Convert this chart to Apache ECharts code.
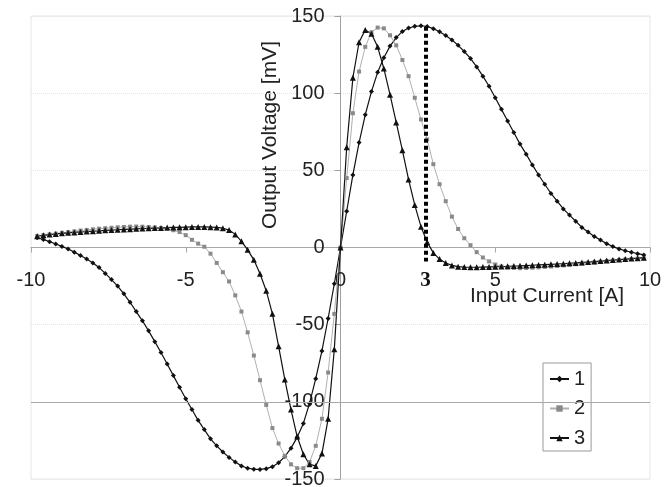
<!DOCTYPE html>
<html>
<head>
<meta charset="utf-8">
<script src="https://cdn.jsdelivr.net/npm/echarts@6/dist/echarts.min.js"></script>
<style>
html,body{margin:0;padding:0;background:#fff;}
#chart{width:669px;height:487px;}
</style>
</head>
<body>
<div id="chart"></div>
<script>
// Input current samples [A]
var xValues = [
 -9.8,-9.6,-9.4,-9.2,-9.0,-8.8,-8.6,-8.4,-8.2,-8.0,
 -7.8,-7.6,-7.4,-7.2,-7.0,-6.8,-6.6,-6.4,-6.2,-6.0,
 -5.8,-5.6,-5.4,-5.2,-5.0,-4.8,-4.6,-4.4,-4.2,-4.0,
 -3.8,-3.6,-3.4,-3.2,-3.0,-2.8,-2.6,-2.4,-2.2,-2.0,
 -1.8,-1.6,-1.4,-1.2,-1.0,-0.8,-0.6,-0.4,-0.2,0.0,
 0.2,0.4,0.6,0.8,1.0,1.2,1.4,1.6,1.8,2.0,
 2.2,2.4,2.6,2.8,3.0,3.2,3.4,3.6,3.8,4.0,
 4.2,4.4,4.6,4.8,5.0,5.2,5.4,5.6,5.8,6.0,
 6.2,6.4,6.6,6.8,7.0,7.2,7.4,7.6,7.8,8.0,
 8.2,8.4,8.6,8.8,9.0,9.2,9.4,9.6,9.8
];
// Output voltage [mV], series "1"
var series1 = [
 6.3,5.2,3.8,2.3,0.7,-1.0,-3.0,-5.2,-7.5,-10,
 -13,-16.8,-20.8,-25,-30,-35.5,-41.5,-47.5,-54,-61,
 -68,-75.5,-83,-90.5,-98,-105,-112,-118,-124,-128.5,
 -132.5,-136,-139,-141.5,-143,-143.7,-143.8,-143.3,-142,-139.5,
 -135.5,-130,-123,-114,-101,-85,-67,-46,-23.5,0,
 23.5,47,68,86,101,113.5,123,130.5,136,140,
 142.2,143.3,143.7,143.2,141.8,139.8,137.3,134.5,131,127,
 122.5,117,111,104.5,97,89.5,82,74.5,67,60.5,
 53.5,47,41,35,30,25,21,17,13,10,
 7.2,4.8,2.5,0.6,-0.9,-2.1,-3.1,-4,-4.8
];
// series "2"
var series2 = [
 7.5,8,8.5,9,9.5,10,10.5,11,11.4,11.8,
 12.2,12.5,12.8,13.1,13.3,13.5,13.6,13.5,13.3,13,
 12.6,12,11.2,10,8,5,2.5,0.5,-4,-10,
 -16,-22,-31,-41.5,-55,-70,-86,-102,-117,-127,
 -135,-140.5,-143,-143,-139,-128.5,-111,-81,-43,0,
 45,87,114,130,139.5,142.5,142,137.5,131,121.5,
 111,97,83,70,54,41,30,20,12,6,
 1.5,-3,-6.5,-9,-11,-12.3,-13,-13.3,-13.4,-13.3,
 -13.1,-12.9,-12.6,-12.3,-12,-11.6,-11.2,-10.8,-10.4,-10,
 -9.6,-9.2,-8.8,-8.4,-8.1,-7.8,-7.5,-7.2,-7
];
// series "3"
var series3 = [
 7.3,7.9,8.4,8.8,9.2,9.5,9.8,10.1,10.3,10.6,
 10.8,11.1,11.3,11.5,11.7,11.9,12.1,12.3,12.4,12.6,
 12.7,12.9,13,13.1,13.2,13.3,13.3,13.3,13.2,13,
 12.5,11.3,8.5,4,-1.5,-8,-17,-28,-43,-64,
 -85.5,-105,-122.5,-134,-140.5,-141.5,-133.5,-111,-66,0,
 65,110,133,141,138.5,130,116,99,81,63,
 44,27.5,13.5,3.5,-3.5,-7.5,-10,-11.6,-12.4,-12.7,
 -12.8,-12.8,-12.7,-12.6,-12.5,-12.3,-12.2,-12,-11.9,-11.7,
 -11.5,-11.3,-11.1,-10.9,-10.7,-10.5,-10.2,-10,-9.7,-9.4,
 -9.1,-8.8,-8.5,-8.1,-7.8,-7.5,-7.2,-6.9,-6.6
];
var seriesNames = ['1','2','3'];
var xTicks = [-10,-5,0,5,10];
var yTicks = [-150,-100,-50,0,50,100,150];
// vertical reference line (labelled "3")
var refX = 2.75, refTop = 143, refBottom = -9, refLabel = '3';
var gridValue = -100;
var xTitle = 'Input Current [A]';
var yTitle = 'Output Voltage [mV]';

function pairs(ys){ return xValues.map(function(x,i){ return [x, ys[i]]; }); }

var FONT = 'Liberation Sans, Arial, sans-serif';
var G = {left:31, right:19, top:16, bottom:8};
var W = 669, H = 487;
var gw = W - G.left - G.right, gh = H - G.top - G.bottom;
var xMin = xTicks[0], xMax = xTicks[xTicks.length-1];
var yMin = yTicks[0], yMax = yTicks[yTicks.length-1];
// shift axes so they cross at the origin (offsets are layout, derived from axis ranges)
var xAxisOffset = -gh * (0 - yMin) / (yMax - yMin);
var yAxisOffset = -gw * (0 - xMin) / (xMax - xMin);

var chart = echarts.init(document.getElementById('chart'), null, {renderer:'canvas'});
chart.setOption({
  animation:false,
  backgroundColor:'#fff',
  grid:{left:G.left, right:G.right, top:G.top, bottom:G.bottom, containLabel:false, outerBoundsMode:'none',
        show:true, borderColor:'#e6e6e6', borderWidth:1, backgroundColor:'transparent'},
  xAxis:{
    type:'value', min:xMin, max:xMax, interval:5, position:'bottom', offset:xAxisOffset,
    axisLine:{onZero:false, lineStyle:{color:'#a8a8a8', width:1}},
    axisTick:{show:true, inside:false, length:5, lineStyle:{color:'#a8a8a8'}},
    axisLabel:{margin:23, fontSize:20, color:'#222', fontFamily:FONT},
    splitLine:{show:false}
  },
  yAxis:{
    type:'value', min:yMin, max:yMax, interval:50, position:'left', offset:yAxisOffset,
    axisLine:{onZero:false, lineStyle:{color:'#a0a0a0', width:1}},
    axisTick:{show:true, inside:false, length:6, lineStyle:{color:'#a0a0a0'}},
    axisLabel:{margin:16, fontSize:20, color:'#222', fontFamily:FONT},
    splitLine:{show:true, lineStyle:{color:'#e4e4e4', type:'dotted', width:1}}
  },
  legend:{
    orient:'vertical', left:543, top:363,
    data:seriesNames,
    backgroundColor:'#fff', borderColor:'#9a9a9a', borderWidth:1,
    padding:[6,6,3,6], itemGap:9.5, itemWidth:19, itemHeight:8,
    textStyle:{fontSize:20, color:'#222', fontFamily:FONT, lineHeight:20}
  },
  graphic:[
    {type:'text', left:470, top:286, style:{text:xTitle, fontSize:21, fill:'#222', fontFamily:FONT}},
    {type:'text', x:270, y:135, rotation:Math.PI/2,
     style:{text:yTitle, fontSize:21, fill:'#222', fontFamily:FONT, align:'center', verticalAlign:'middle'}}
  ],
  series:[
    {name:seriesNames[0], type:'line', data:pairs(series1), symbol:'diamond', symbolSize:5,
     lineStyle:{color:'#111', width:1.2}, itemStyle:{color:'#111'},
     markLine:{silent:true, symbol:'none',
       lineStyle:{color:'#000', type:[4,3], width:4},
       label:{show:true, position:'end', distance:9, formatter:refLabel,
              fontFamily:'Liberation Serif, Times New Roman, serif', fontWeight:'bold', fontSize:21, color:'#111'},
       data:[[{coord:[refX, refTop]},{coord:[refX, refBottom]}]]}
    },
    {name:seriesNames[1], type:'line', data:pairs(series2), symbol:'rect', symbolSize:4,
     lineStyle:{color:'#b0b0b0', width:1}, itemStyle:{color:'#8a8a8a'},
     markLine:{silent:true, symbol:'none', label:{show:false},
       lineStyle:{color:'#a8a8a8', type:'solid', width:1},
       data:[{yAxis:gridValue}]}
    },
    {name:seriesNames[2], type:'line', data:pairs(series3), symbol:'triangle', symbolSize:6,
     lineStyle:{color:'#111', width:1.2}, itemStyle:{color:'#111'}}
  ]
});
</script>
</body>
</html>
